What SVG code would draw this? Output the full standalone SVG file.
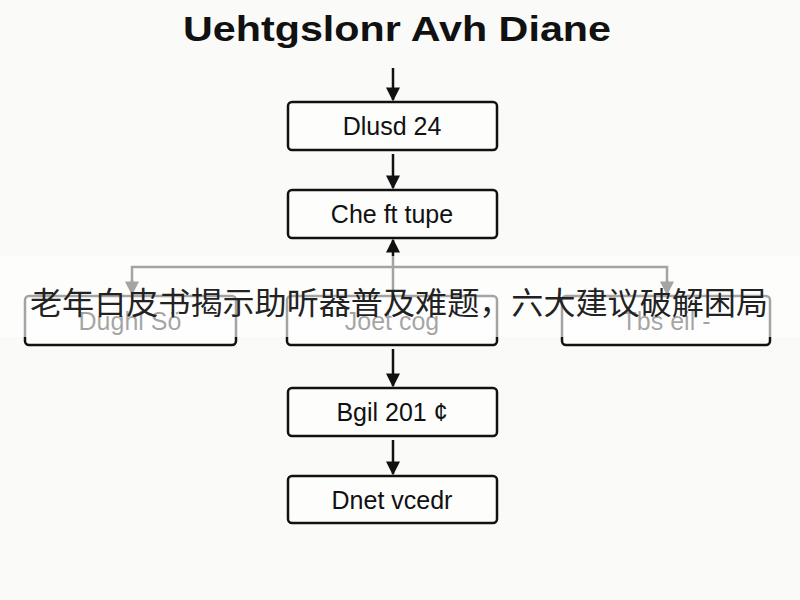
<svg xmlns="http://www.w3.org/2000/svg" width="800" height="600" viewBox="0 0 800 600">
<defs>
<style>
.box{fill:#fdfdfc;stroke:#111;stroke-width:2.5}
.lbl{font-family:"Liberation Sans",Arial,sans-serif;font-size:25px;fill:#111;text-anchor:middle}
.ttl{font-family:"Liberation Sans",Arial,sans-serif;font-size:35px;font-weight:bold;fill:#111;text-anchor:middle}
.conn{stroke:#111;stroke-width:2.5;fill:none}
.cjk{font-family:"Liberation Sans","Noto Sans CJK SC",sans-serif;font-size:31px;fill:#222;text-anchor:middle}
</style>
<marker id="ah" viewBox="0 0 10 10" refX="9" refY="5" markerWidth="5.6" markerHeight="5.6" orient="auto" markerUnits="strokeWidth">
<path d="M0,0 L10,5 L0,10 z" fill="#111"/>
</marker>
</defs>
<rect width="800" height="600" fill="#fafaf8"/>
<text class="ttl" x="397" y="41" textLength="428" lengthAdjust="spacingAndGlyphs">Uehtgslonr Avh Diane</text>

<g id="connectors">
<line class="conn" x1="393" y1="68" x2="393" y2="100" marker-end="url(#ah)"/>
<line class="conn" x1="393" y1="154" x2="393" y2="188" marker-end="url(#ah)"/>
<line class="conn" x1="393" y1="296" x2="393" y2="240" marker-end="url(#ah)"/>
<polyline class="conn" points="132,285 132,267 667,267 667,285"/>
<line class="conn" x1="132" y1="280" x2="132" y2="294" marker-end="url(#ah)"/>
<line class="conn" x1="667" y1="280" x2="667" y2="294" marker-end="url(#ah)"/>
<line class="conn" x1="393" y1="349" x2="393" y2="386" marker-end="url(#ah)"/>
<line class="conn" x1="393" y1="440" x2="393" y2="474" marker-end="url(#ah)"/>
</g>

<g id="n1"><rect class="box" x="288" y="102" width="209" height="48" rx="4"/><text class="lbl" x="392" y="135">Dlusd 24</text></g>
<g id="n2"><rect class="box" x="288" y="190" width="209" height="48" rx="4"/><text class="lbl" x="392" y="223">Che ft tupe</text></g>
<g id="n3"><rect class="box" x="25" y="296" width="211" height="49" rx="4"/><text class="lbl" x="130" y="330">Dughl Sö</text></g>
<g id="n4"><rect class="box" x="287" y="296" width="210" height="49" rx="4"/><text class="lbl" x="392" y="330">Joet cog</text></g>
<g id="n5"><rect class="box" x="562" y="296" width="208" height="49" rx="4"/><text class="lbl" x="666" y="330">Tbs eil -</text></g>
<g id="n6"><rect class="box" x="288" y="388" width="209" height="48" rx="4"/><text class="lbl" x="392" y="421">Bgil 201 ¢</text></g>
<g id="n7"><rect class="box" x="288" y="476" width="209" height="47" rx="4"/><text class="lbl" x="392" y="509">Dnet vcedr</text></g>

<rect x="0" y="256" width="800" height="81" fill="#ffffff" fill-opacity="0.62"/>
<text class="cjk" x="399" y="314" textLength="738" lengthAdjust="spacingAndGlyphs">老年白皮书揭示助听器普及难题，六大建议破解困局</text>
</svg>
